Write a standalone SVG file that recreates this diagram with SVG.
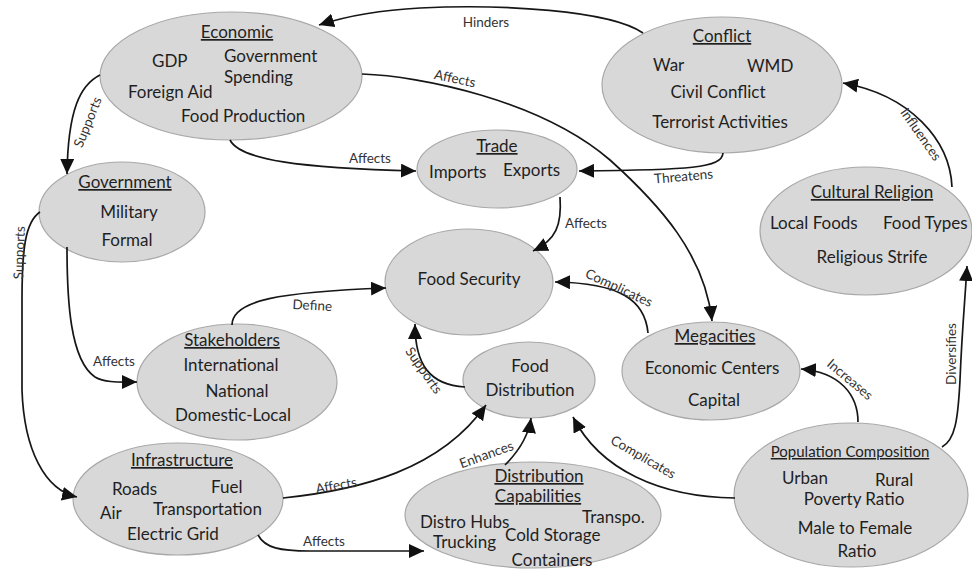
<svg xmlns="http://www.w3.org/2000/svg" width="972" height="571" viewBox="0 0 972 571">
<defs>
<marker id="arr" markerUnits="userSpaceOnUse" markerWidth="16" markerHeight="14" refX="15" refY="7" orient="auto">
<path d="M0,0 L15,7 L0,14 z" fill="#111"/>
</marker>
<style>
.n ellipse{fill:#d8d8d8;stroke:#a8a8a8;stroke-width:1.2}
.n text{font-family:Lato,"Liberation Sans",sans-serif;font-size:17px;fill:#1f1f1f}
.n .t{text-decoration:underline}
.m{text-anchor:middle}
.c path{fill:none;stroke:#161616;stroke-width:1.7;marker-end:url(#arr)}
.c text{font-family:Lato,"Liberation Sans",sans-serif;font-size:13.5px;fill:#333;text-anchor:middle}
</style>
</defs>
<rect width="972" height="571" fill="#fff"/>
<g id="economic" class="n">
<ellipse cx="231" cy="76" rx="131" ry="64"/>
<text class="t m" x="237" y="38">Economic</text>
<text x="152" y="67">GDP</text>
<text x="224" y="62">Government</text>
<text x="224" y="83">Spending</text>
<text x="128" y="98">Foreign Aid</text>
<text x="181" y="122">Food Production</text>
</g>
<g id="conflict" class="n">
<ellipse cx="722" cy="85" rx="120" ry="68"/>
<text class="t m" x="722" y="42">Conflict</text>
<text x="653" y="71">War</text>
<text x="747" y="72">WMD</text>
<text class="m" x="718" y="98">Civil Conflict</text>
<text class="m" x="720" y="128">Terrorist Activities</text>
</g>
<g id="trade" class="n">
<ellipse cx="497" cy="169" rx="80" ry="39"/>
<text class="t m" x="497" y="152">Trade</text>
<text x="429" y="178">Imports</text>
<text x="503" y="176">Exports</text>
</g>
<g id="government" class="n">
<ellipse cx="122" cy="212" rx="83" ry="50"/>
<text class="t m" x="125" y="188">Government</text>
<text class="m" x="129" y="218">Military</text>
<text class="m" x="127" y="246">Formal</text>
</g>
<g id="foodsecurity" class="n">
<ellipse cx="469" cy="282" rx="84" ry="53"/>
<text class="m" x="469" y="285">Food Security</text>
</g>
<g id="stakeholders" class="n">
<ellipse cx="237" cy="382" rx="100" ry="58"/>
<text class="t m" x="232" y="346">Stakeholders</text>
<text class="m" x="231" y="371">International</text>
<text class="m" x="237" y="397">National</text>
<text class="m" x="233" y="421">Domestic-Local</text>
</g>
<g id="fooddistribution" class="n">
<ellipse cx="529" cy="380" rx="66" ry="38"/>
<text class="m" x="530" y="372">Food</text>
<text class="m" x="530" y="396">Distribution</text>
</g>
<g id="megacities" class="n">
<ellipse cx="711" cy="371" rx="89" ry="49"/>
<text class="t m" x="715" y="342">Megacities</text>
<text class="m" x="712" y="374">Economic Centers</text>
<text class="m" x="714" y="406">Capital</text>
</g>
<g id="culturalreligion" class="n">
<ellipse cx="866" cy="231" rx="106" ry="64"/>
<text class="t m" x="872" y="198">Cultural Religion</text>
<text x="770" y="229">Local Foods</text>
<text x="883" y="229">Food Types</text>
<text class="m" x="872" y="263">Religious Strife</text>
</g>
<g id="population" class="n">
<ellipse cx="851" cy="495" rx="117" ry="72"/>
<text class="t m" x="850" y="457" style="font-size:15px">Population Composition</text>
<text x="782" y="484">Urban</text>
<text x="875" y="486">Rural</text>
<text class="m" x="854" y="505">Poverty Ratio</text>
<text class="m" x="855" y="534">Male to Female</text>
<text class="m" x="857" y="557">Ratio</text>
</g>
<g id="infrastructure" class="n">
<ellipse cx="178" cy="499" rx="105" ry="56"/>
<text class="t m" x="182" y="466">Infrastructure</text>
<text x="112" y="495">Roads</text>
<text x="211" y="493">Fuel</text>
<text x="100" y="519">Air</text>
<text x="153" y="515">Transportation</text>
<text class="m" x="173" y="540">Electric Grid</text>
</g>
<g id="distributioncapabilities" class="n">
<ellipse cx="533" cy="515" rx="128" ry="53"/>
<text class="t m" x="539" y="482">Distribution</text>
<text class="t m" x="538" y="502">Capabilities</text>
<text x="420" y="528">Distro Hubs</text>
<text x="582" y="523">Transpo.</text>
<text x="433" y="548">Trucking</text>
<text x="505" y="541">Cold Storage</text>
<text class="m" x="552" y="566">Containers</text>
</g>
<g id="connectors" class="c">
<path d="M643,33 C610,10 500,4 420,8 C380,10 350,15 319,25"/>
<text x="486" y="27">Hinders</text>
<path d="M230,140 C240,160 300,168 416,171"/>
<text x="370" y="163">Affects</text>
<path d="M362,74 C420,76 540,100 610,160 C660,205 705,255 712,321"/>
<text transform="translate(454,83) rotate(12)">Affects</text>
<path d="M723,153 C722,168 690,170 579,171"/>
<text transform="translate(684,181) rotate(-5)">Threatens</text>
<path d="M100,75 C80,85 68,110 67,174"/>
<text transform="translate(92,124) rotate(-68)">Supports</text>
<path d="M40,212 C25,222 22,250 22,300 L22,390 C24,450 45,490 77,497"/>
<text transform="translate(24,253) rotate(-88)">Supports</text>
<path d="M67,247 C67,300 70,360 95,377 C105,383 120,382 137,382"/>
<text x="114" y="366">Affects</text>
<path d="M232,325 C232,300 280,292 386,288"/>
<text transform="translate(312,310) rotate(3)">Define</text>
<path d="M560,197 C562,225 556,240 533,251"/>
<text x="586" y="228">Affects</text>
<path d="M648,333 C645,300 620,283 555,282"/>
<text transform="translate(617,292) rotate(25)">Complicates</text>
<path d="M465,387 C430,385 415,365 415,324"/>
<text transform="translate(420,373) rotate(55)">Supports</text>
<path d="M283,498 C360,490 440,470 486,405"/>
<text transform="translate(337,490) rotate(-10)">Affects</text>
<path d="M258,535 C265,548 280,551 310,551 L424,551"/>
<text x="324" y="546">Affects</text>
<path d="M505,465 C515,455 528,440 531,418"/>
<text transform="translate(488,459) rotate(-20)">Enhances</text>
<path d="M735,498 C660,497 600,470 573,417"/>
<text transform="translate(641,461) rotate(30)">Complicates</text>
<path d="M858,422 C858,395 840,372 801,369"/>
<text transform="translate(847,383) rotate(40)">Increases</text>
<path d="M942,447 C955,440 958,420 960,380 C962,330 965,300 967,266"/>
<text transform="translate(956,354) rotate(-90)">Diversifies</text>
<path d="M952,187 C950,140 910,95 843,83"/>
<text transform="translate(917,137) rotate(55)">Influences</text>
</g>
</svg>
